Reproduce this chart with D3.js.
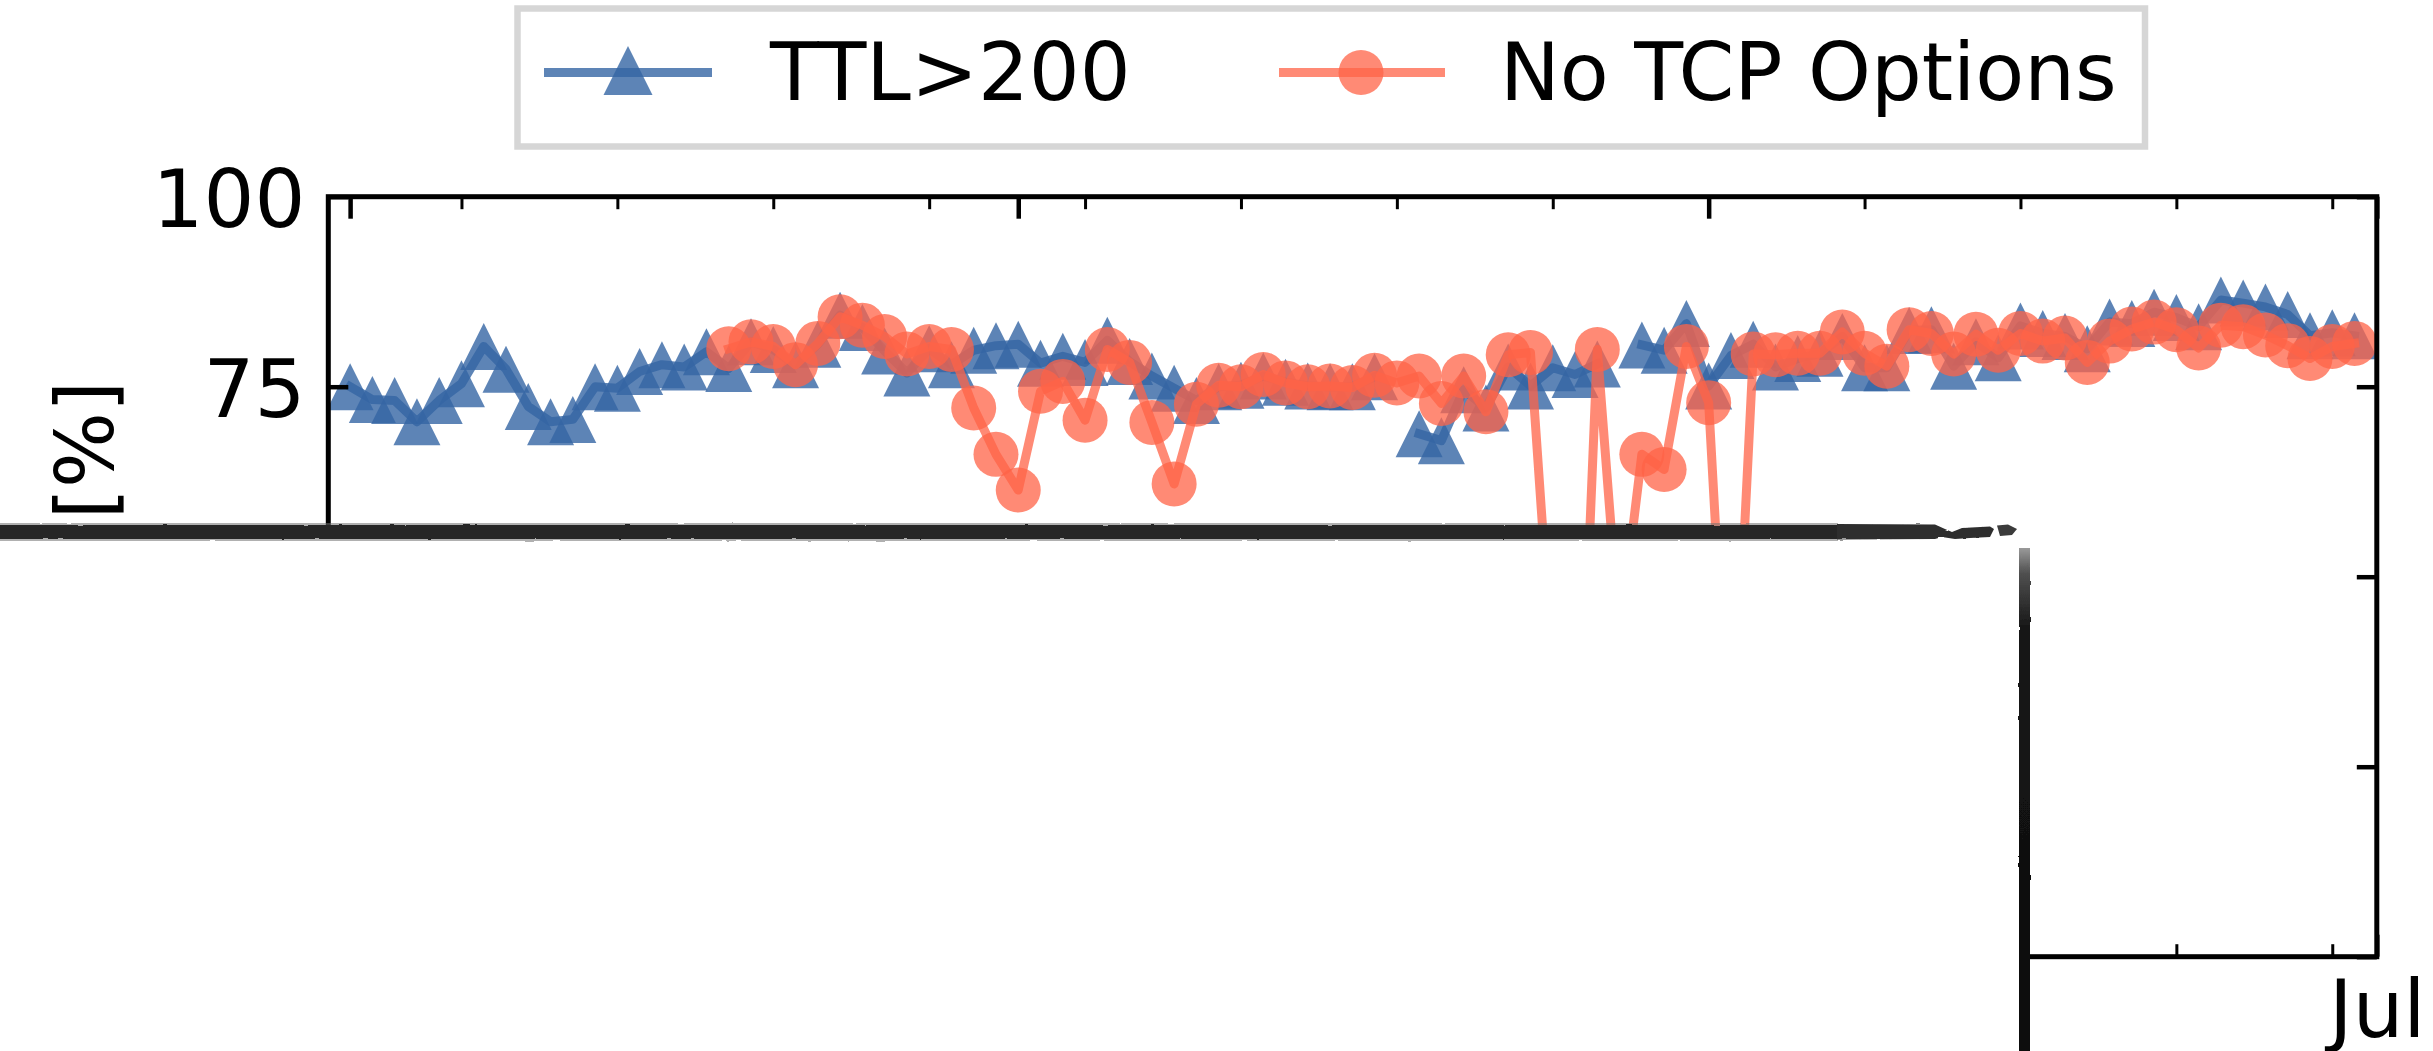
<!DOCTYPE html>
<html><head><meta charset="utf-8">
<script src="https://cdn.jsdelivr.net/npm/d3@7"></script>
<style>html,body{margin:0;padding:0;background:#fff;overflow:hidden}text{font-family:"DejaVu Sans",sans-serif}</style>
</head><body>
<svg id="c" width="2433" height="1051"></svg>
<script>
// ---------------- data ----------------
const startDay = "2020-04-01";
const seriesNames = ["TTL>200", "No TCP Options"];
// daily values, Apr 1 .. Jun 30 (null = no data)
const ttlValues = [
  75.0, 73.3, 73.2, 70.4, 73.2, 75.4, 80.3, 77.3, 72.4, 70.4,
  70.7, 75.0, 74.8, 77.0, 77.9, 77.6, 79.6, 77.4, 80.9, 79.9,
  77.9, 80.6, 84.4, 82.8, 79.7, 76.8, 80.0, 77.9, 79.8, 80.4,
  80.6, 78.1, 79.0, 78.2, 81.1, 78.3, 76.4, 74.8, 73.2, 75.0,
  75.2, 76.4, 75.6, 75.1, 75.0, 75.0, 76.3, null, 68.8, 67.9,
  74.6, 72.2, 77.6, 75.1, 77.5, 76.6, 78.0, null, 80.5, 79.8,
  83.3, 75.1, 79.1, 80.6, 77.6, 78.7, 79.4, 81.6, 77.5, 77.5,
  82.4, 82.5, 77.7, 80.9, 78.8, 83.0, 82.0, 81.6, 80.0, 83.5,
  83.3, 84.8, 84.1, 82.9, 86.4, 86.0, 85.5, 84.5, 81.7, 82.1,
  81.7
];
const noOptionsValues = [
  null, null, null, null, null, null, null, null, null, null,
  null, null, null, null, null, null, null, 80.0, 80.9, 80.3,
  77.9, 80.7, 84.2, 83.1, 81.6, 79.3, 80.3, 79.9, 72.2, 66.1,
  61.4, 74.4, 75.7, 70.6, 79.9, 78.2, 70.3, 62.2, 72.7, 75.2,
  75.0, 76.6, 75.5, 75.0, 75.1, 74.9, 76.5, 75.5, 76.4, 72.8,
  76.4, 71.7, 79.2, 79.5, 37.0, 9.0, 79.9, 42.0, 66.1, 64.1,
  80.3, 72.9, 20.0, 79.3, 79.2, 79.4, 79.4, 82.2, 79.4, 77.7,
  82.5, 82.0, 79.3, 81.9, 79.8, 82.0, 81.0, 81.4, 78.2, 81.0,
  82.6, 83.5, 82.5, 80.1, 83.1, 82.9, 81.8, 80.4, 78.7, 80.3,
  80.7
];
const yTicks = [0, 25, 50, 75, 100];
const yTickLabels = ["0", "25", "50", "75", "100"];
const monthLabels = ["Apr", "May", "Jun", "Jul"];
const yLabel = "[%]";

// ---------------- layout ----------------
const W = 2433, H = 1051;
const m = {left: 328.3, right: 2376.8, top: 196.7, bottom: 956.7};
const cover = {x: 0, y: 531, right: 2024};   // torn-off white patch
const FS = 80;
const blue = "#3465a4", blueOp = 0.8;
const orange = "#ff6347", orangeOp = 0.75;

const svg = d3.select("#c");
const t0 = d3.utcParse("%Y-%m-%d")(startDay);
const x = d3.scaleUtc()
  .domain([new Date(Date.UTC(2020, 2, 31, 0, 30)), new Date(Date.UTC(2020, 6, 1))])
  .range([m.left, m.right]);
const y = d3.scaleLinear().domain([0, 100]).range([m.bottom, m.top]);

const defs = svg.append("defs");
defs.append("clipPath").attr("id", "clip").append("rect")
  .attr("x", m.left).attr("y", m.top).attr("width", m.right - m.left).attr("height", m.bottom - m.top);
const rough = defs.append("filter").attr("id", "rough").attr("x", "-2%").attr("y", "-100%").attr("width", "104%").attr("height", "300%");
rough.append("feTurbulence").attr("type", "fractalNoise").attr("baseFrequency", "0.08 0.7").attr("numOctaves", 2).attr("seed", 4).attr("result", "n");
rough.append("feDisplacementMap").attr("in", "SourceGraphic").attr("in2", "n").attr("scale", 2).attr("xChannelSelector", "R").attr("yChannelSelector", "G").attr("result", "d");
rough.append("feGaussianBlur").attr("in", "d").attr("stdDeviation", 0.6);
const roughV = defs.append("filter").attr("id", "roughV").attr("x", "-100%").attr("y", "-2%").attr("width", "300%").attr("height", "104%");
roughV.append("feTurbulence").attr("type", "fractalNoise").attr("baseFrequency", "0.7 0.08").attr("numOctaves", 2).attr("seed", 7).attr("result", "n");
roughV.append("feDisplacementMap").attr("in", "SourceGraphic").attr("in2", "n").attr("scale", 2).attr("xChannelSelector", "R").attr("yChannelSelector", "G").attr("result", "d");
roughV.append("feGaussianBlur").attr("in", "d").attr("stdDeviation", 0.5);
const vg = defs.append("linearGradient").attr("id", "vgrad").attr("x1", 0).attr("y1", 0).attr("x2", 0).attr("y2", 1);
vg.append("stop").attr("offset", "0").attr("stop-color", "#9a9a9a");
vg.append("stop").attr("offset", "0.05").attr("stop-color", "#505050");
vg.append("stop").attr("offset", "0.16").attr("stop-color", "#161616");
vg.append("stop").attr("offset", "1").attr("stop-color", "#0c0c0c");

svg.append("rect").attr("width", W).attr("height", H).attr("fill", "#fff");

const series = vals => vals.map((v, i) => ({date: d3.utcDay.offset(t0, i), v}));
const ttl = series(ttlValues), nop = series(noOptionsValues);
const line = d3.line().defined(d => d.v != null).x(d => x(d.date)).y(d => y(d.v));
const tri = h => `M0,${-h}L${h},${h}L${-h},${h}Z`;

const plot = svg.append("g").attr("clip-path", "url(#clip)");
function drawSeries(data, color, op, marker) {
  plot.append("path").datum(data).attr("d", line)
    .attr("fill", "none").attr("stroke", color).attr("stroke-opacity", op)
    .attr("stroke-width", 9).attr("stroke-linejoin", "round").attr("stroke-linecap", "square");
  const pts = data.filter(d => d.v != null);
  if (marker === "tri") {
    plot.append("g").selectAll("path").data(pts).join("path")
      .attr("transform", d => `translate(${x(d.date)},${y(d.v)})`)
      .attr("d", tri(23.5)).attr("fill", color).attr("fill-opacity", op);
  } else {
    plot.append("g").selectAll("circle").data(pts).join("circle")
      .attr("cx", d => x(d.date)).attr("cy", d => y(d.v)).attr("r", 22.5)
      .attr("fill", color).attr("fill-opacity", op);
  }
}
drawSeries(ttl, blue, blueOp, "tri");
drawSeries(nop, orange, orangeOp, "circle");

// ---------------- axes ----------------
const dStart = x.domain()[0], dEnd = d3.utcDay.offset(x.domain()[1], 1);
const majors = d3.utcMonth.range(d3.utcMonth.ceil(dStart), dEnd);
const minors = d3.utcMonday.range(dStart, dEnd).filter(d => !majors.some(mj => +mj === +d));

function styleAxis(g, w) {
  g.select(".domain").remove();
  g.selectAll(".tick line").attr("stroke", "#000").attr("stroke-width", w);
}
// top
svg.append("g").attr("transform", `translate(0,${m.top})`)
  .call(d3.axisTop(x).tickValues(minors).tickSize(-12.5).tickFormat(""))
  .call(g => styleAxis(g, 3));
svg.append("g").attr("transform", `translate(0,${m.top})`)
  .call(d3.axisTop(x).tickValues(majors).tickSize(-22).tickFormat(""))
  .call(g => styleAxis(g, 4.5));
// bottom
svg.append("g").attr("transform", `translate(0,${m.bottom})`)
  .call(d3.axisBottom(x).tickValues(minors).tickSize(-12.5).tickFormat(""))
  .call(g => styleAxis(g, 3));
svg.append("g").attr("transform", `translate(0,${m.bottom})`)
  .call(d3.axisBottom(x).tickValues(majors).tickSize(-22).tickFormat((d, i) => monthLabels[i]))
  .call(g => {
    styleAxis(g, 4.5);
    g.selectAll("text").attr("y", 80.5).attr("dy", 0).attr("font-size", FS)
      .attr("fill", "#000").attr("font-family", "DejaVu Sans");
  });
// left
svg.append("g").attr("transform", `translate(${m.left},0)`)
  .call(d3.axisLeft(y).tickValues(yTicks).tickSize(-20).tickPadding(23).tickFormat((d, i) => yTickLabels[i]))
  .call(g => {
    styleAxis(g, 4.5);
    g.selectAll("text").attr("dy", "0.375em").attr("font-size", FS)
      .attr("fill", "#000").attr("font-family", "DejaVu Sans");
  });
// right
svg.append("g").attr("transform", `translate(${m.right},0)`)
  .call(d3.axisRight(y).tickValues(yTicks).tickSize(-20).tickFormat(""))
  .call(g => styleAxis(g, 4.5));
// spines
svg.append("rect").attr("x", m.left).attr("y", m.top)
  .attr("width", m.right - m.left).attr("height", m.bottom - m.top)
  .attr("fill", "none").attr("stroke", "#000").attr("stroke-width", 5);

// y label
svg.append("text").attr("transform", "translate(113,450) rotate(-90)")
  .attr("text-anchor", "middle").attr("font-size", FS).attr("fill", "#000").text(yLabel);

// ---------------- legend ----------------
const lg = svg.append("g");
lg.append("rect").attr("x", 517.5).attr("y", 8.5).attr("width", 1627.5).attr("height", 138)
  .attr("fill", "#fff").attr("stroke", "#d6d6d6").attr("stroke-width", 6.5);
lg.append("line").attr("x1", 544).attr("x2", 712).attr("y1", 72.5).attr("y2", 72.5)
  .attr("stroke", blue).attr("stroke-opacity", blueOp).attr("stroke-width", 9);
lg.append("path").attr("transform", "translate(628,70.5)").attr("d", tri(24.5))
  .attr("fill", blue).attr("fill-opacity", blueOp);
lg.append("text").attr("x", 770).attr("y", 100).attr("font-size", FS).attr("fill", "#000").text(seriesNames[0]);
lg.append("line").attr("x1", 1279).attr("x2", 1445).attr("y1", 72.5).attr("y2", 72.5)
  .attr("stroke", orange).attr("stroke-opacity", orangeOp).attr("stroke-width", 9);
lg.append("circle").attr("cx", 1361).attr("cy", 72.5).attr("r", 22.5)
  .attr("fill", orange).attr("fill-opacity", orangeOp);
lg.append("text").attr("x", 1500).attr("y", 100).attr("font-size", FS).attr("fill", "#000").text(seriesNames[1]);

// ---------------- torn cover ----------------
svg.append("rect").attr("x", cover.x).attr("y", cover.y).attr("width", cover.right).attr("height", H - cover.y).attr("fill", "#fff");
const band = svg.append("g").attr("filter", "url(#rough)");
band.append("rect").attr("x", -10).attr("y", 523).attr("width", 1848).attr("height", 18)
  .attr("fill", "#707070").attr("opacity", 0.55);
band.append("rect").attr("x", -10).attr("y", 525).attr("width", 1848).attr("height", 14)
  .attr("fill", "#252525");
band.append("path")
  .attr("d", "M1837,524 L1935,524.5 L1945,529 L1952,532 L1962,528 L1990,526.5 L1994,529 L1990,537 L1970,538 L1955,539 L1942,537 L1935,539 L1837,539.5 Z")
  .attr("fill", "#2e2e2e");
band.append("path")
  .attr("d", "M1997,525.5 L2008,524.5 L2017,529 L2012,535 L2000,536 Z")
  .attr("fill", "#3a3a3a");
svg.append("rect").attr("x", 2019).attr("y", 548).attr("width", 11).attr("height", H - 548)
  .attr("fill", "url(#vgrad)").attr("filter", "url(#roughV)");
</script>
</body></html>
